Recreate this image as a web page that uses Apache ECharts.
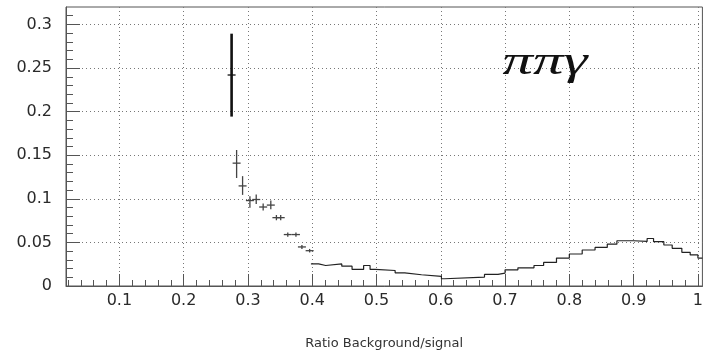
<!DOCTYPE html>
<html>
<head>
<meta charset="utf-8">
<script src="https://cdn.jsdelivr.net/npm/echarts@6/dist/echarts.min.js"></script>
<style>
html,body{margin:0;padding:0;background:#fff;}
#chart{width:706px;height:355px;}
</style>
</head>
<body>
<div id="chart"></div>
<script>
// ---- data ----
const xMajorTicks = [0.1, 0.2, 0.3, 0.4, 0.5, 0.6, 0.7, 0.8, 0.9, 1.0];
const xMinorTicks = [0.02, 0.04, 0.06, 0.08, 0.12, 0.14, 0.16, 0.18, 0.22, 0.24, 0.26, 0.28,
  0.32, 0.34, 0.36, 0.38, 0.42, 0.44, 0.46, 0.48, 0.52, 0.54, 0.56, 0.58, 0.62, 0.64, 0.66, 0.68,
  0.72, 0.74, 0.76, 0.78, 0.82, 0.84, 0.86, 0.88, 0.92, 0.94, 0.96, 0.98];
const yMajorTicks = [0, 0.05, 0.1, 0.15, 0.2, 0.25, 0.3];
const yMinorTicks = [0.01, 0.02, 0.03, 0.04, 0.06, 0.07, 0.08, 0.09, 0.11, 0.12, 0.13, 0.14,
  0.16, 0.17, 0.18, 0.19, 0.21, 0.22, 0.23, 0.24, 0.26, 0.27, 0.28, 0.29, 0.31];

// points with error bars
const ptX  = [0.2746, 0.2824, 0.2917, 0.3031, 0.3129, 0.3237, 0.3356, 0.3443, 0.3510, 0.3620, 0.3747, 0.3840, 0.3960];
const ptY  = [0.242, 0.1409, 0.1148, 0.098, 0.0992, 0.0906, 0.0928, 0.0784, 0.0784, 0.059, 0.059, 0.0448, 0.0405];
const ptLo = [0.1943, 0.1239, 0.1045, 0.0898, 0.094, 0.0866, 0.088, 0.0754, 0.0754, 0.0565, 0.0565, 0.0425, 0.0385];
const ptHi = [0.2894, 0.156, 0.126, 0.103, 0.105, 0.0946, 0.098, 0.0814, 0.0814, 0.0615, 0.0615, 0.0471, 0.0425];

// histogram (bin left edges, last one is the right end)
const stepX = [0.398, 0.410, 0.421, 0.446, 0.462, 0.480, 0.490, 0.498, 0.529, 0.544, 0.570, 0.601,
  0.606, 0.668, 0.689, 0.700, 0.720, 0.745, 0.760, 0.780, 0.800, 0.820, 0.840, 0.859, 0.874, 0.900,
  0.921, 0.931, 0.947, 0.960, 0.975, 0.988, 1.000, 1.007];
const stepY = [0.0253, 0.0235, 0.0253, 0.0227, 0.019, 0.0235, 0.019, 0.0178, 0.0151, 0.0129, 0.011, 0.0083,
  0.0102, 0.0133, 0.0148, 0.0185, 0.0208, 0.0235, 0.027, 0.032, 0.0367, 0.0413, 0.0443, 0.048, 0.0519, 0.0511,
  0.0545, 0.0508, 0.047, 0.0432, 0.0386, 0.0356, 0.032, 0.032];

const xName = 'Ratio Background/signal';
const annotation = 'ππγ';

// ---- chart ----
const chart = echarts.init(document.getElementById('chart'), null, {renderer: 'canvas'});
const X_MIN = 0.017, X_MAX = 1.007, Y_MIN = 0, Y_MAX = 0.32;
const axisColor = '#555';
const labelFont = {fontFamily: 'DejaVu Sans', fontSize: 16, color: '#2a2a2a'};

const option = {
  animation: false,
  backgroundColor: '#fff',
  grid: {left: 66, right: 0, top: 7, bottom: 66, show: true, borderColor: axisColor, borderWidth: 1, backgroundColor: 'transparent'},
  xAxis: [{
    type: 'value', min: X_MIN, max: X_MAX, position: 'bottom',
    axisLine: {show: true, onZero: false, lineStyle: {color: axisColor, width: 1}},
    axisTick: {show: true, inside: true, length: 12, customValues: xMajorTicks, lineStyle: {color: axisColor}},
    axisLabel: Object.assign({show: true, margin: 7, customValues: xMajorTicks, showMinLabel: true, showMaxLabel: true}, labelFont),
    splitLine: {show: true, lineStyle: {color: '#777', type: [1, 3], width: 1}},
    name: xName, nameLocation: 'middle', nameGap: 51,
    nameTextStyle: {fontFamily: 'DejaVu Sans', fontSize: 13, color: '#333'}
  }, {
    type: 'value', min: X_MIN, max: X_MAX, position: 'bottom', offset: 0,
    axisLine: {show: false},
    axisTick: {show: true, inside: true, length: 6, customValues: xMinorTicks, lineStyle: {color: axisColor}},
    axisLabel: {show: false},
    splitLine: {show: false}
  }],
  yAxis: [{
    type: 'value', min: Y_MIN, max: Y_MAX, position: 'left',
    axisLine: {show: true, onZero: false, lineStyle: {color: axisColor, width: 1}},
    axisTick: {show: true, inside: true, length: 14, customValues: yMajorTicks, lineStyle: {color: axisColor}},
    axisLabel: Object.assign({show: true, margin: 14, customValues: yMajorTicks}, labelFont),
    splitLine: {show: true, lineStyle: {color: '#777', type: [1, 3], width: 1}}
  }, {
    type: 'value', min: Y_MIN, max: Y_MAX, position: 'left', offset: 0,
    axisLine: {show: false},
    axisTick: {show: true, inside: true, length: 7, customValues: yMinorTicks, lineStyle: {color: axisColor}},
    axisLabel: {show: false},
    splitLine: {show: false}
  }],
  graphic: [{
    type: 'text', x: 545, y: 64, z: 100, scaleX: 1.6, scaleY: 1.05,
    style: {text: annotation, font: 'italic 38px "Liberation Serif"', fill: '#111', align: 'center', verticalAlign: 'middle'}
  }],
  series: [{
    type: 'line', xAxisIndex: 0, yAxisIndex: 0,
    data: stepX.map((x, i) => [x, stepY[i]]),
    step: 'end', symbol: 'none',
    lineStyle: {color: '#222', width: 1.2}
  }, {
    type: 'custom', xAxisIndex: 0, yAxisIndex: 0,
    data: ptX.map((x, i) => [x, ptY[i], ptLo[i], ptHi[i]]),
    renderItem: function (params, api) {
      const c = api.coord([api.value(0), api.value(1)]);
      const lo = api.coord([api.value(0), api.value(2)]);
      const hi = api.coord([api.value(0), api.value(3)]);
      const first = params.dataIndex === 0;
      const st = {stroke: first ? '#111' : '#444', lineWidth: first ? 2.6 : 1.3};
      return {type: 'group', children: [
        {type: 'line', shape: {x1: c[0], y1: hi[1], x2: c[0], y2: lo[1]}, style: st},
        {type: 'line', shape: {x1: c[0] - 4, y1: c[1], x2: c[0] + 4, y2: c[1]}, style: {stroke: st.stroke, lineWidth: 1.3}}
      ]};
    }
  }]
};
chart.setOption(option);
</script>
</body>
</html>
